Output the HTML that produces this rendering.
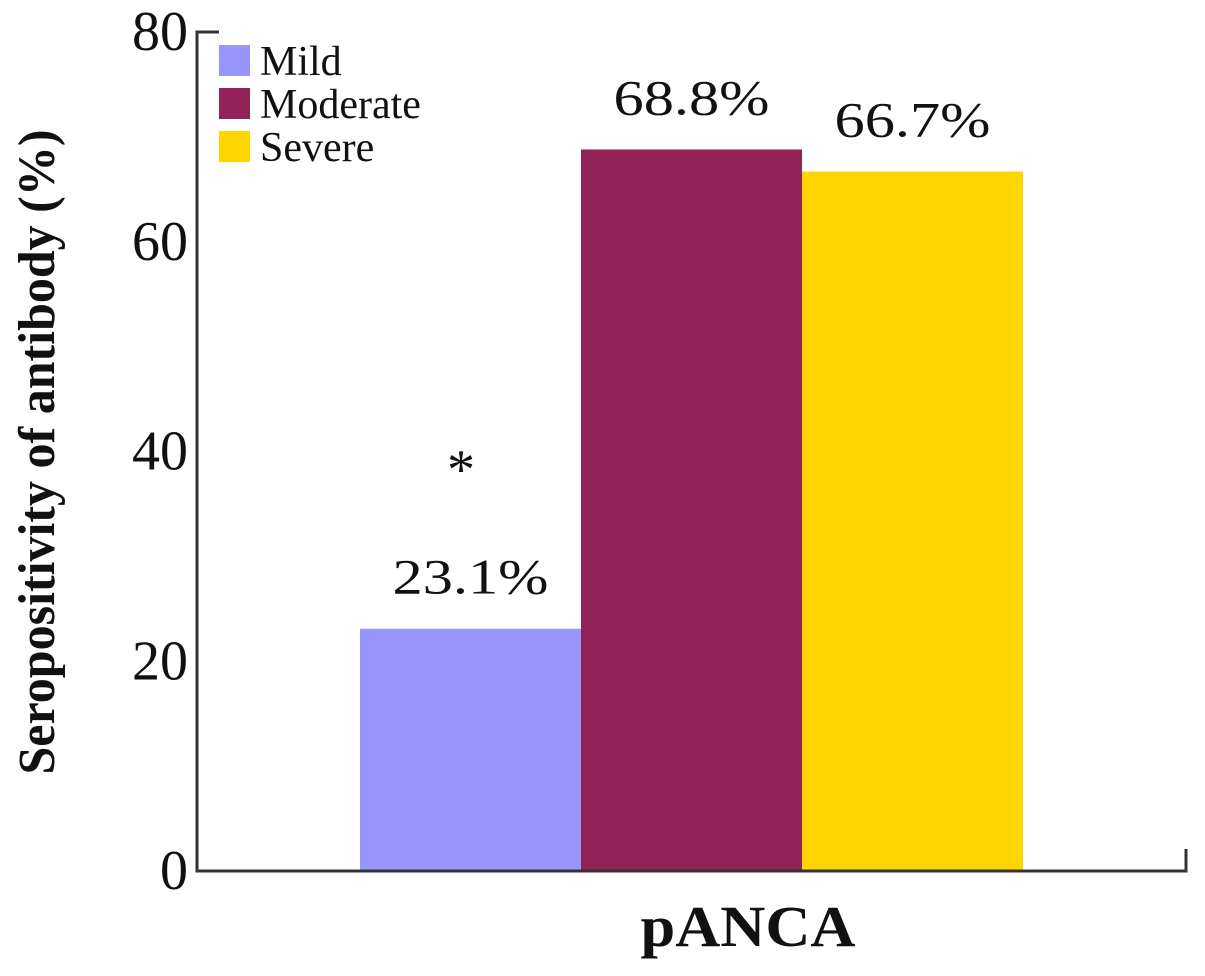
<!DOCTYPE html>
<html><head><meta charset="utf-8"><style>
body{margin:0;background:#fff}
svg text{font-family:"Liberation Serif","Times New Roman",serif;fill:#111}
</style></head><body>
<svg width="1205" height="971" viewBox="0 0 1205 971">
<g id="bars"></g>
<g stroke="#333" stroke-width="3" fill="none">
<path d="M219,32 H197 V871 H1186 V849"/>
</g>
<g id="yticks"></g>
<text x="0" y="0" font-size="52" font-weight="bold" text-anchor="middle" transform="translate(54 452) rotate(-90)" textLength="645" lengthAdjust="spacingAndGlyphs">Seropositivity of antibody (%)</text>
<text x="748" y="946" font-size="58" font-weight="bold" text-anchor="middle" textLength="215" lengthAdjust="spacingAndGlyphs">pANCA</text>
<text x="461" y="488" font-size="56" text-anchor="middle">*</text>
<g id="legend"></g>
</svg>
<script>
const series=["Mild","Moderate","Severe"];
const values=[23.1,68.8,66.7];
const labels=["23.1%","68.8%","66.7%"];
const colors=["#9896fc","#902255","#fed401"];
const yTicks=[0,20,40,60,80];
const NS="http://www.w3.org/2000/svg";
function y(v){return 871-v*(871-32)/80;}
const x0=360,bw=221;
const bars=document.getElementById('bars');
values.forEach((v,i)=>{
 const r=document.createElementNS(NS,'rect');
 r.setAttribute('x',x0+i*bw);r.setAttribute('y',y(v));r.setAttribute('width',bw);r.setAttribute('height',871-y(v));r.setAttribute('fill',colors[i]);
 
 
 bars.appendChild(r);
 const t=document.createElementNS(NS,'text');
 t.setAttribute('x',x0+i*bw+bw/2);t.setAttribute('y',y(v)-35);t.setAttribute('font-size','50');t.setAttribute('text-anchor','middle');
 t.setAttribute('textLength','156');t.setAttribute('lengthAdjust','spacingAndGlyphs');
 t.textContent=labels[i];
 
 
 bars.appendChild(t);
});
const yt=document.getElementById('yticks');
yTicks.forEach(v=>{
 const t=document.createElementNS(NS,'text');
 t.setAttribute('x',188);t.setAttribute('y',y(v)+18);t.setAttribute('font-size','56');t.setAttribute('text-anchor','end');t.textContent=v;
 
 
 yt.appendChild(t);
});
const lg=document.getElementById('legend');
series.forEach((s,i)=>{
 const r=document.createElementNS(NS,'rect');
 r.setAttribute('x',219);r.setAttribute('y',45+i*43);r.setAttribute('width',31);r.setAttribute('height',31);r.setAttribute('fill',colors[i]);
 
 
 lg.appendChild(r);
 const t=document.createElementNS(NS,'text');
 t.setAttribute('x',260);t.setAttribute('y',75+i*43);t.setAttribute('font-size','42');t.textContent=s;
 
 
 lg.appendChild(t);
});
</script>
</body></html>
